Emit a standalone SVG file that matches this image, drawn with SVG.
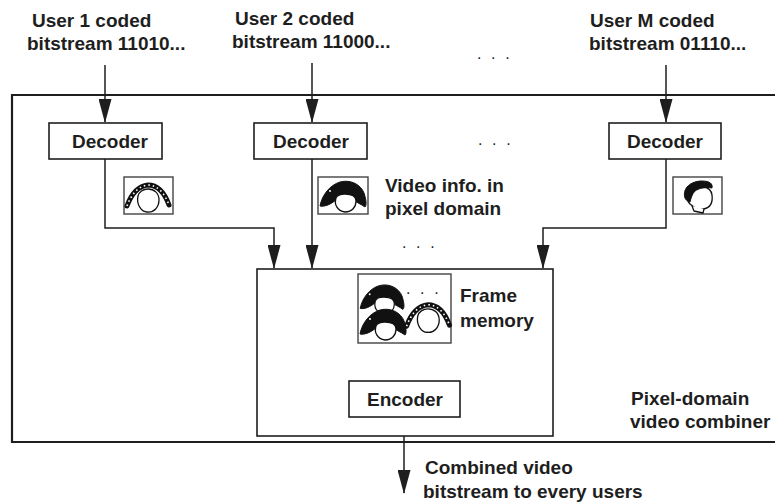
<svg xmlns="http://www.w3.org/2000/svg" width="775" height="504" viewBox="0 0 775 504">
  <style>
    .lbl { font-family: "Liberation Sans", Arial, Helvetica, sans-serif; font-weight: bold; font-size: 19px; fill: #1e1e1e; }
    .dots { font-family: "Liberation Sans", Arial, sans-serif; font-size: 16px; fill: #1e1e1e; letter-spacing: 2.6px; }
    .box { fill: #fff; stroke: #1e1e1e; stroke-width: 1.6; }
    .outer { fill: none; stroke: #1e1e1e; stroke-width: 2.2; }
    .wire { fill: none; stroke: #1e1e1e; stroke-width: 1.5; }
    .pic { fill: #fff; stroke: #444; stroke-width: 1.4; }
    .hair { fill: #111; stroke: #111; stroke-width: 1; stroke-linejoin: round; }
    .skin { fill: #fff; stroke: #111; stroke-width: 1.3; stroke-linejoin: round; }
    .braid { fill: none; stroke: #111; stroke-width: 5; stroke-linecap: round; }
    .braidDots { fill: none; stroke: #fff; stroke-width: 1.6; stroke-dasharray: 1.5 3; }
  </style>
  <defs>
    <marker id="arrow" markerUnits="userSpaceOnUse" markerWidth="24" markerHeight="13" refX="23" refY="6.5" orient="auto">
      <path d="M0,0 L24,6.5 L0,13 z" fill="#1e1e1e"/>
    </marker>
    <!-- pigtail face -->
    <g id="faceBraids">
      <path class="skin" d="M-10,-3 C-12,6 -6,13 -1,13 C6,14 11,8 11,1 C11,-6 6,-10 0,-10 C-5,-10 -9,-7 -10,-3 z"/>
      <path class="braid" d="M-21,7 C-17,-4 -10,-13 0,-14 C10,-14 17,-5 21,6"/>
      <path class="braidDots" d="M-21,7 C-17,-4 -10,-13 0,-14 C10,-14 17,-5 21,6"/>
    </g>
    <!-- long dark hair face -->
    <g id="faceDark">
      <path class="hair" d="M-24,11 C-22,0 -14,-10 -4,-13 C7,-16 17,-10 20,-2 C22,4 23,10 21,12 C17,9 13,8 10,5 L-8,5 C-13,9 -19,12 -24,11 z"/>
      <path class="skin" d="M-8,3 C-10,9 -7,16 1,17 C8,17 12,12 12,6 C12,1 7,-1 1,-1 C-4,-1 -7,0 -8,3 z"/>
      <circle cx="-14" cy="-4" r="1" fill="#fff"/>
    </g>
    <!-- short dark hair face -->
    <g id="faceShort">
      <path class="skin" d="M-8,-8 C0,-13 13,-11 14,-2 C15,6 12,11 5,12 C1,13 -2,12 -4,10 L-8,7 C-12,3 -12,-4 -8,-8 z"/>
      <path class="skin" d="M-6,9 L-4,14 L5,16 L6,12"/>
      <path class="hair" d="M-13,1 C-16,-9 -7,-16 4,-16 C12,-16 15,-13 14,-9 C7,-10 1,-9 -3,-6 C-6,-3 -7,1 -8,5 C-11,4 -12,3 -13,1 z"/>
    </g>
  </defs>

  <!-- combiner enclosure (open on the right) -->
  <path class="outer" d="M800,95 L12,95 L12,442 L800,442"/>

  <!-- input labels -->
  <text class="lbl" x="32" y="27">User 1 coded</text>
  <text class="lbl" x="27" y="50">bitstream 11010...</text>
  <text class="lbl" x="235" y="25">User 2 coded</text>
  <text class="lbl" x="232" y="48">bitstream 11000...</text>
  <text class="lbl" x="590" y="27">User M coded</text>
  <text class="lbl" x="589" y="50">bitstream 01110...</text>
  <text class="dots" x="477" y="59">. . .</text>

  <g id="connectors">
    <path class="wire" d="M105,65 L105,122" marker-end="url(#arrow)"/>
    <path class="wire" d="M312,63 L312,122" marker-end="url(#arrow)"/>
    <path class="wire" d="M666,65 L666,122" marker-end="url(#arrow)"/>
    <path class="wire" d="M105,159 L105,228 L274,228 L274,268" marker-end="url(#arrow)"/>
    <path class="wire" d="M312,159 L312,268" marker-end="url(#arrow)"/>
    <path class="wire" d="M666,159 L666,228 L543,228 L543,268" marker-end="url(#arrow)"/>
    <path class="wire" d="M404,343 L404,380" marker-end="url(#arrow)"/>
    <path class="wire" d="M404,417 L404,493" marker-end="url(#arrow)"/>
  </g>

  <g id="decoder1">
    <rect class="box" x="49" y="123" width="113" height="36"/>
    <text class="lbl" x="110" y="148" text-anchor="middle">Decoder</text>
  </g>
  <g id="decoder2">
    <rect class="box" x="254" y="123" width="113" height="36"/>
    <text class="lbl" x="311" y="148" text-anchor="middle">Decoder</text>
  </g>
  <g id="decoder3">
    <rect class="box" x="609" y="123" width="112" height="36"/>
    <text class="lbl" x="665" y="148" text-anchor="middle">Decoder</text>
  </g>
  <text class="dots" x="478" y="145">. . .</text>

  <!-- decoded pictures -->
  <g id="pic1">
    <rect class="pic" x="124" y="177" width="49" height="37"/>
    <use href="#faceBraids" transform="translate(148,199)"/>
  </g>
  <g id="pic2">
    <rect class="pic" x="318" y="177" width="50" height="37"/>
    <use href="#faceDark" transform="translate(344,195)"/>
  </g>
  <g id="picM">
    <rect class="pic" x="673" y="177" width="49" height="37"/>
    <use href="#faceShort" transform="translate(698,197)"/>
  </g>
  <text class="lbl" x="385" y="192">Video info. in</text>
  <text class="lbl" x="385" y="215">pixel domain</text>
  <text class="dots" x="402" y="248">. . .</text>

  <g id="combiner">
    <rect class="box" x="257" y="269" width="296" height="167"/>
  </g>
  <g id="frameMemory">
    <rect class="pic" x="358" y="274" width="93" height="69"/>
    <use href="#faceDark" transform="translate(383,298) scale(0.95)"/>
    <use href="#faceDark" transform="translate(384,323) scale(1.0)"/>
    <use href="#faceBraids" transform="translate(428,319) scale(1.02)"/>
    <text class="dots" x="406" y="294">. . .</text>
    <text class="lbl" x="460" y="302">Frame</text>
    <text class="lbl" x="460" y="327">memory</text>
  </g>
  <g id="encoder">
    <rect class="box" x="349" y="381" width="111" height="36"/>
    <text class="lbl" x="405" y="406" text-anchor="middle">Encoder</text>
  </g>

  <text class="lbl" x="631" y="405">Pixel-domain</text>
  <text class="lbl" x="630" y="428">video combiner</text>

  <text class="lbl" x="425" y="474">Combined video</text>
  <text class="lbl" x="423" y="498">bitstream to every users</text>
</svg>
